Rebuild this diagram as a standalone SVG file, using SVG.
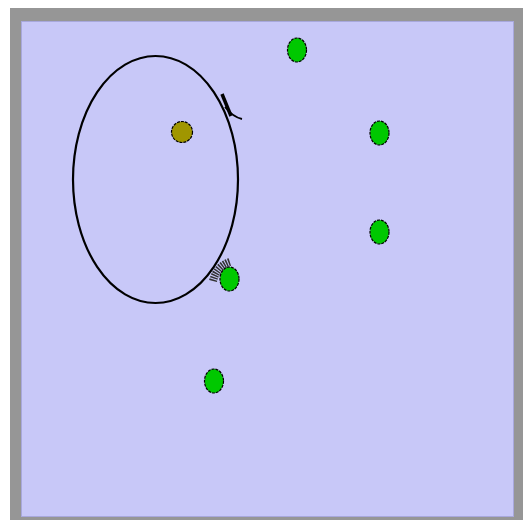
<svg xmlns="http://www.w3.org/2000/svg" width="528" height="520" viewBox="0 0 528 520">
<style>
.g{fill:#00c800;stroke:#000;stroke-width:1.2;stroke-dasharray:3 1}
.o{fill:#a09600;stroke:#000;stroke-width:1.2;stroke-dasharray:3 1}
</style>
<rect x="0" y="0" width="528" height="520" fill="#fff"/>
<rect x="10" y="8" width="513" height="512" fill="#969696"/>
<rect x="21.5" y="21.5" width="492" height="495" fill="#c8c8f8" stroke="#a8a8dc" stroke-width="1"/>
<g id="connectors">
<ellipse cx="155.5" cy="179.5" rx="82.5" ry="123.5" fill="none" stroke="#000" stroke-width="2.2"/>
<path d="M222,94 L231,116" stroke="#000" stroke-width="3.5" fill="none"/>
<path d="M225,107 Q233,117 242,119" stroke="#000" stroke-width="1.8" fill="none"/>
<path d="M213,281 Q217,266 230,262" stroke="#333" stroke-width="8" fill="none" stroke-dasharray="1.5 1"/>
</g>
<g id="n0"><circle class="o" cx="182" cy="132" r="10.5"/></g>
<g id="n1"><ellipse class="g" cx="297" cy="50" rx="9.5" ry="12"/></g>
<g id="n2"><ellipse class="g" cx="379.5" cy="133" rx="9.5" ry="12"/></g>
<g id="n3"><ellipse class="g" cx="379.5" cy="232" rx="9.5" ry="12"/></g>
<g id="n4"><ellipse class="g" cx="229.5" cy="279" rx="9.5" ry="12"/></g>
<g id="n5"><ellipse class="g" cx="214" cy="381" rx="9.5" ry="12"/></g>
</svg>
